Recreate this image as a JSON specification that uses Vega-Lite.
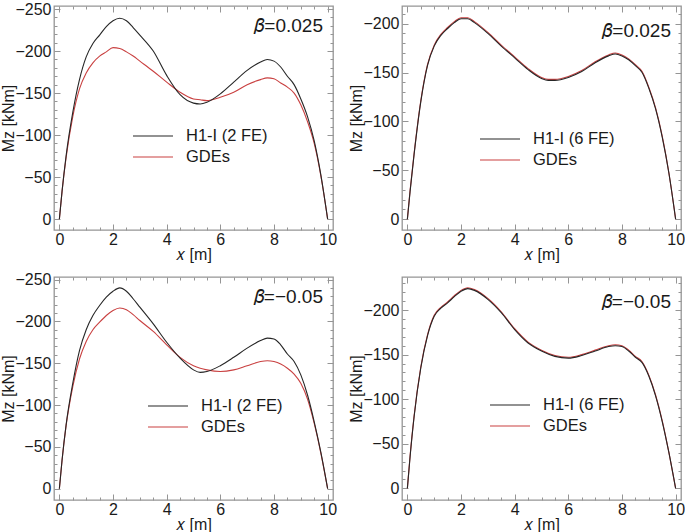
{
  "$schema": "https://vega.github.io/schema/vega-lite/v6.json",
  "background": "white",
  "padding": {"left": 0, "top": 0, "right": 0, "bottom": 0},
  "columns": 2,
  "spacing": {"row": 47, "column": 69},
  "bounds": "flush",
  "resolve": {"scale": {"color": "independent", "y": "independent", "x": "independent"}, "legend": {"color": "independent"}},
  "config": {
    "font": "Liberation Sans",
    "view": {"stroke": "#959595", "strokeWidth": 1.3},
    "axis": {"grid": false, "domain": false, "labelFontSize": 16, "labelColor": "#1a1a1a", "titleFontSize": 16, "titleFontWeight": "normal", "titleColor": "#1a1a1a", "tickColor": "#959595", "tickWidth": 1, "labelFont": "Liberation Sans", "titleFont": "Liberation Sans", "labelFlush": false, "labelOverlap": false},
    "axisY": {"titlePadding": -2, "labelPadding": 3},
    "axisX": {"titlePadding": -1, "labelPadding": 1},
    "legend": {"symbolType": "M-2,0H2", "symbolSize": 400, "symbolStrokeWidth": 1.2, "labelFontSize": 16.5, "labelColor": "#1a1a1a", "labelOffset": 22, "padding": 0, "rowPadding": 1, "labelFont": "Liberation Sans"},
    "title": {"anchor": "end", "frame": "group", "offset": -35, "dx": -10, "fontSize": 19, "fontWeight": "normal", "color": "#1a1a1a", "font": "Liberation Sans"}
  },
  "datasets": {
    "p1": [
      {"x": 0, "h": 0, "g": 0}, {"x": 0.1, "h": -33, "g": -33}, {"x": 0.25, "h": -75, "g": -73}, {"x": 0.5, "h": -127, "g": -122},
      {"x": 0.75, "h": -166, "g": -155}, {"x": 1.0, "h": -193, "g": -174}, {"x": 1.25, "h": -209, "g": -186}, {"x": 1.5, "h": -219, "g": -194},
      {"x": 1.75, "h": -229, "g": -199}, {"x": 2.0, "h": -236, "g": -204}, {"x": 2.25, "h": -239, "g": -203}, {"x": 2.5, "h": -236, "g": -199},
      {"x": 2.75, "h": -228, "g": -194}, {"x": 3.0, "h": -219, "g": -188}, {"x": 3.5, "h": -200, "g": -176}, {"x": 4.0, "h": -171, "g": -163},
      {"x": 4.5, "h": -148, "g": -151}, {"x": 5.0, "h": -138, "g": -143}, {"x": 5.25, "h": -137, "g": -142}, {"x": 5.5, "h": -139, "g": -141},
      {"x": 6.0, "h": -149, "g": -145}, {"x": 6.5, "h": -163, "g": -151}, {"x": 7.0, "h": -177, "g": -160}, {"x": 7.5, "h": -187, "g": -166},
      {"x": 7.75, "h": -190, "g": -168}, {"x": 8.0, "h": -188, "g": -167}, {"x": 8.25, "h": -181, "g": -162}, {"x": 8.5, "h": -170, "g": -157},
      {"x": 8.75, "h": -160, "g": -150}, {"x": 9.0, "h": -143, "g": -136}, {"x": 9.25, "h": -122, "g": -116}, {"x": 9.5, "h": -93, "g": -90},
      {"x": 9.75, "h": -52, "g": -51}, {"x": 10, "h": 0, "g": 0}
    ],
    "p2": [
      {"x": 0, "h": 0, "g": 0}, {"x": 0.1, "h": -28, "g": -29}, {"x": 0.25, "h": -66, "g": -67}, {"x": 0.5, "h": -120, "g": -121},
      {"x": 0.75, "h": -157, "g": -158}, {"x": 1.0, "h": -177, "g": -178}, {"x": 1.25, "h": -188, "g": -189}, {"x": 1.5, "h": -195, "g": -196},
      {"x": 1.75, "h": -201, "g": -202}, {"x": 2.0, "h": -205, "g": -206}, {"x": 2.25, "h": -205, "g": -206}, {"x": 2.5, "h": -201, "g": -202},
      {"x": 3.0, "h": -190, "g": -191}, {"x": 3.5, "h": -177, "g": -178}, {"x": 4.0, "h": -165, "g": -166}, {"x": 4.5, "h": -153, "g": -154},
      {"x": 5.0, "h": -144, "g": -145}, {"x": 5.25, "h": -142, "g": -143}, {"x": 5.5, "h": -142, "g": -143}, {"x": 6.0, "h": -145, "g": -146},
      {"x": 6.5, "h": -151, "g": -152}, {"x": 7.0, "h": -160, "g": -161}, {"x": 7.5, "h": -167, "g": -168}, {"x": 7.75, "h": -169, "g": -170},
      {"x": 8.0, "h": -167, "g": -168}, {"x": 8.25, "h": -163, "g": -164}, {"x": 8.5, "h": -157, "g": -158}, {"x": 8.75, "h": -150, "g": -151},
      {"x": 9.0, "h": -134, "g": -135}, {"x": 9.25, "h": -113, "g": -114}, {"x": 9.5, "h": -84, "g": -85}, {"x": 9.75, "h": -47, "g": -47},
      {"x": 10, "h": 0, "g": 0}
    ],
    "p3": [
      {"x": 0, "h": 0, "g": 0}, {"x": 0.1, "h": -34, "g": -34}, {"x": 0.25, "h": -76, "g": -75}, {"x": 0.5, "h": -126, "g": -122},
      {"x": 0.75, "h": -165, "g": -155}, {"x": 1.0, "h": -190, "g": -176}, {"x": 1.25, "h": -207, "g": -190}, {"x": 1.5, "h": -219, "g": -199},
      {"x": 1.75, "h": -229, "g": -207}, {"x": 2.0, "h": -236, "g": -213}, {"x": 2.25, "h": -240, "g": -216}, {"x": 2.5, "h": -236, "g": -214},
      {"x": 2.75, "h": -227, "g": -208}, {"x": 3.0, "h": -217, "g": -201}, {"x": 3.5, "h": -197, "g": -188}, {"x": 4.0, "h": -175, "g": -172},
      {"x": 4.5, "h": -156, "g": -157}, {"x": 5.0, "h": -142, "g": -147}, {"x": 5.25, "h": -139, "g": -144}, {"x": 5.5, "h": -140, "g": -142},
      {"x": 6.0, "h": -147, "g": -140}, {"x": 6.5, "h": -157, "g": -142}, {"x": 7.0, "h": -168, "g": -147}, {"x": 7.5, "h": -177, "g": -152},
      {"x": 7.75, "h": -180, "g": -153}, {"x": 8.0, "h": -179, "g": -152}, {"x": 8.25, "h": -172, "g": -149}, {"x": 8.5, "h": -161, "g": -144},
      {"x": 8.75, "h": -152, "g": -137}, {"x": 9.0, "h": -136, "g": -126}, {"x": 9.25, "h": -112, "g": -107}, {"x": 9.5, "h": -80, "g": -78},
      {"x": 9.75, "h": -43, "g": -42}, {"x": 10, "h": 0, "g": 0}
    ],
    "p4": [
      {"x": 0, "h": 0, "g": 0}, {"x": 0.1, "h": -35, "g": -36}, {"x": 0.25, "h": -80, "g": -81}, {"x": 0.5, "h": -135, "g": -136},
      {"x": 0.75, "h": -171, "g": -172}, {"x": 1.0, "h": -193, "g": -194}, {"x": 1.25, "h": -202, "g": -203}, {"x": 1.5, "h": -208, "g": -209},
      {"x": 1.75, "h": -215, "g": -216}, {"x": 2.0, "h": -221, "g": -222}, {"x": 2.25, "h": -224, "g": -225}, {"x": 2.5, "h": -222, "g": -223},
      {"x": 3.0, "h": -212, "g": -213}, {"x": 3.5, "h": -197, "g": -198}, {"x": 4.0, "h": -178, "g": -179}, {"x": 4.5, "h": -163, "g": -164},
      {"x": 5.0, "h": -154, "g": -155}, {"x": 5.5, "h": -148, "g": -149}, {"x": 6.0, "h": -146, "g": -147}, {"x": 6.5, "h": -149, "g": -150},
      {"x": 7.0, "h": -154, "g": -155}, {"x": 7.5, "h": -159, "g": -160}, {"x": 7.75, "h": -160, "g": -161}, {"x": 8.0, "h": -159, "g": -160},
      {"x": 8.25, "h": -154, "g": -155}, {"x": 8.5, "h": -147, "g": -148}, {"x": 8.75, "h": -141, "g": -142}, {"x": 9.0, "h": -126, "g": -127},
      {"x": 9.25, "h": -104, "g": -105}, {"x": 9.5, "h": -75, "g": -76}, {"x": 9.75, "h": -40, "g": -40}, {"x": 10, "h": 0, "g": 0}
    ]
  },
  "concat": [
    {
      "width": 279, "height": 224,
      "data": {"name": "p1"},
      "transform": [{"fold": ["g", "h"], "as": ["k", "m"]}],
      "title": {"text": "𝛽=0.025"},
      "resolve": {"axis": {"x": "independent", "y": "independent"}},
      "layer": [
        {
          "mark": {"type": "line", "interpolate": "monotone", "strokeWidth": 1.1},
          "encoding": {
            "x": {"field": "x", "type": "quantitative", "scale": {"domain": [-0.2, 10.2], "nice": false, "zero": false}, "axis": {"orient": "bottom", "values": [0, 2, 4, 6, 8, 10], "title": "𝑥 [m]", "ticks": false, "tickSize": 0}},
            "y": {"field": "m", "type": "quantitative", "scale": {"domain": [-253.6, 13], "reverse": true, "nice": false, "zero": false}, "axis": {"orient": "left", "values": [0, -50, -100, -150, -200, -250], "title": "Mz [kNm]", "ticks": false, "tickSize": 0}},
            "color": {"field": "k", "type": "nominal", "scale": {"domain": ["h", "g"], "range": ["#262626", "#c94040"]}, "legend": {"title": null, "orient": "none", "legendX": 88, "legendY": 119, "labelExpr": "datum.value == 'h' ? 'H1-I (2 FE)' : 'GDEs'"}}
          }
        },
        {
          "mark": {"type": "point", "opacity": 0},
          "encoding": {
            "x": {"field": "x", "type": "quantitative", "scale": {"domain": [-0.2, 10.2], "nice": false, "zero": false}, "axis": {"orient": "bottom", "values": [0, 0.5, 1, 1.5, 2, 2.5, 3, 3.5, 4, 4.5, 5, 5.5, 6, 6.5, 7, 7.5, 8, 8.5, 9, 9.5, 10], "labels": false, "title": null, "tickSize": {"condition": {"test": "datum.value % 2 === 0", "value": -6}, "value": -3}}},
            "y": {"field": "m", "type": "quantitative", "scale": {"domain": [-253.6, 13], "reverse": true, "nice": false, "zero": false}, "axis": {"orient": "left", "values": [0, -10, -20, -30, -40, -50, -60, -70, -80, -90, -100, -110, -120, -130, -140, -150, -160, -170, -180, -190, -200, -210, -220, -230, -240, -250], "labels": false, "title": null, "tickSize": {"condition": {"test": "datum.value % 50 === 0", "value": -6}, "value": -3}}}
          }
        },
        {
          "mark": {"type": "point", "opacity": 0},
          "encoding": {
            "x": {"field": "x", "type": "quantitative", "scale": {"domain": [-0.2, 10.2], "nice": false, "zero": false}, "axis": {"orient": "top", "values": [0, 0.5, 1, 1.5, 2, 2.5, 3, 3.5, 4, 4.5, 5, 5.5, 6, 6.5, 7, 7.5, 8, 8.5, 9, 9.5, 10], "labels": false, "title": null, "tickSize": {"condition": {"test": "datum.value % 2 === 0", "value": -6}, "value": -3}}},
            "y": {"field": "m", "type": "quantitative", "scale": {"domain": [-253.6, 13], "reverse": true, "nice": false, "zero": false}, "axis": {"orient": "right", "values": [0, -10, -20, -30, -40, -50, -60, -70, -80, -90, -100, -110, -120, -130, -140, -150, -160, -170, -180, -190, -200, -210, -220, -230, -240, -250], "labels": false, "title": null, "tickSize": {"condition": {"test": "datum.value % 50 === 0", "value": -6}, "value": -3}}}
          }
        }
      ]
    },
    {
      "width": 279, "height": 224,
      "data": {"name": "p2"},
      "transform": [{"fold": ["g", "h"], "as": ["k", "m"]}],
      "title": {"text": "𝛽=0.025"},
      "resolve": {"axis": {"x": "independent", "y": "independent"}},
      "layer": [
        {
          "mark": {"type": "line", "interpolate": "monotone", "strokeWidth": 1.1},
          "encoding": {
            "x": {"field": "x", "type": "quantitative", "scale": {"domain": [-0.2, 10.2], "nice": false, "zero": false}, "axis": {"orient": "bottom", "values": [0, 2, 4, 6, 8, 10], "title": "𝑥 [m]", "ticks": false, "tickSize": 0}},
            "y": {"field": "m", "type": "quantitative", "scale": {"domain": [-218, 11], "reverse": true, "nice": false, "zero": false}, "axis": {"orient": "left", "values": [0, -50, -100, -150, -200], "title": "Mz [kNm]", "ticks": false, "tickSize": 0}},
            "color": {"field": "k", "type": "nominal", "scale": {"domain": ["h", "g"], "range": ["#262626", "#c94040"]}, "legend": {"title": null, "orient": "none", "legendX": 87, "legendY": 122, "labelExpr": "datum.value == 'h' ? 'H1-I (6 FE)' : 'GDEs'"}}
          }
        },
        {
          "mark": {"type": "point", "opacity": 0},
          "encoding": {
            "x": {"field": "x", "type": "quantitative", "scale": {"domain": [-0.2, 10.2], "nice": false, "zero": false}, "axis": {"orient": "bottom", "values": [0, 0.5, 1, 1.5, 2, 2.5, 3, 3.5, 4, 4.5, 5, 5.5, 6, 6.5, 7, 7.5, 8, 8.5, 9, 9.5, 10], "labels": false, "title": null, "tickSize": {"condition": {"test": "datum.value % 2 === 0", "value": -6}, "value": -3}}},
            "y": {"field": "m", "type": "quantitative", "scale": {"domain": [-218, 11], "reverse": true, "nice": false, "zero": false}, "axis": {"orient": "left", "values": [0, -10, -20, -30, -40, -50, -60, -70, -80, -90, -100, -110, -120, -130, -140, -150, -160, -170, -180, -190, -200, -210], "labels": false, "title": null, "tickSize": {"condition": {"test": "datum.value % 50 === 0", "value": -6}, "value": -3}}}
          }
        },
        {
          "mark": {"type": "point", "opacity": 0},
          "encoding": {
            "x": {"field": "x", "type": "quantitative", "scale": {"domain": [-0.2, 10.2], "nice": false, "zero": false}, "axis": {"orient": "top", "values": [0, 0.5, 1, 1.5, 2, 2.5, 3, 3.5, 4, 4.5, 5, 5.5, 6, 6.5, 7, 7.5, 8, 8.5, 9, 9.5, 10], "labels": false, "title": null, "tickSize": {"condition": {"test": "datum.value % 2 === 0", "value": -6}, "value": -3}}},
            "y": {"field": "m", "type": "quantitative", "scale": {"domain": [-218, 11], "reverse": true, "nice": false, "zero": false}, "axis": {"orient": "right", "values": [0, -10, -20, -30, -40, -50, -60, -70, -80, -90, -100, -110, -120, -130, -140, -150, -160, -170, -180, -190, -200, -210], "labels": false, "title": null, "tickSize": {"condition": {"test": "datum.value % 50 === 0", "value": -6}, "value": -3}}}
          }
        }
      ]
    },
    {
      "width": 279, "height": 223,
      "data": {"name": "p3"},
      "transform": [{"fold": ["g", "h"], "as": ["k", "m"]}],
      "title": {"text": "𝛽=−0.05"},
      "resolve": {"axis": {"x": "independent", "y": "independent"}},
      "layer": [
        {
          "mark": {"type": "line", "interpolate": "monotone", "strokeWidth": 1.1},
          "encoding": {
            "x": {"field": "x", "type": "quantitative", "scale": {"domain": [-0.2, 10.2], "nice": false, "zero": false}, "axis": {"orient": "bottom", "values": [0, 2, 4, 6, 8, 10], "title": "𝑥 [m]", "ticks": false, "tickSize": 0}},
            "y": {"field": "m", "type": "quantitative", "scale": {"domain": [-253, 13.5], "reverse": true, "nice": false, "zero": false}, "axis": {"orient": "left", "values": [0, -50, -100, -150, -200, -250], "title": "Mz [kNm]", "ticks": false, "tickSize": 0}},
            "color": {"field": "k", "type": "nominal", "scale": {"domain": ["h", "g"], "range": ["#262626", "#c94040"]}, "legend": {"title": null, "orient": "none", "legendX": 103, "legendY": 118, "labelExpr": "datum.value == 'h' ? 'H1-I (2 FE)' : 'GDEs'"}}
          }
        },
        {
          "mark": {"type": "point", "opacity": 0},
          "encoding": {
            "x": {"field": "x", "type": "quantitative", "scale": {"domain": [-0.2, 10.2], "nice": false, "zero": false}, "axis": {"orient": "bottom", "values": [0, 0.5, 1, 1.5, 2, 2.5, 3, 3.5, 4, 4.5, 5, 5.5, 6, 6.5, 7, 7.5, 8, 8.5, 9, 9.5, 10], "labels": false, "title": null, "tickSize": {"condition": {"test": "datum.value % 2 === 0", "value": -6}, "value": -3}}},
            "y": {"field": "m", "type": "quantitative", "scale": {"domain": [-253, 13.5], "reverse": true, "nice": false, "zero": false}, "axis": {"orient": "left", "values": [0, -10, -20, -30, -40, -50, -60, -70, -80, -90, -100, -110, -120, -130, -140, -150, -160, -170, -180, -190, -200, -210, -220, -230, -240, -250], "labels": false, "title": null, "tickSize": {"condition": {"test": "datum.value % 50 === 0", "value": -6}, "value": -3}}}
          }
        },
        {
          "mark": {"type": "point", "opacity": 0},
          "encoding": {
            "x": {"field": "x", "type": "quantitative", "scale": {"domain": [-0.2, 10.2], "nice": false, "zero": false}, "axis": {"orient": "top", "values": [0, 0.5, 1, 1.5, 2, 2.5, 3, 3.5, 4, 4.5, 5, 5.5, 6, 6.5, 7, 7.5, 8, 8.5, 9, 9.5, 10], "labels": false, "title": null, "tickSize": {"condition": {"test": "datum.value % 2 === 0", "value": -6}, "value": -3}}},
            "y": {"field": "m", "type": "quantitative", "scale": {"domain": [-253, 13.5], "reverse": true, "nice": false, "zero": false}, "axis": {"orient": "right", "values": [0, -10, -20, -30, -40, -50, -60, -70, -80, -90, -100, -110, -120, -130, -140, -150, -160, -170, -180, -190, -200, -210, -220, -230, -240, -250], "labels": false, "title": null, "tickSize": {"condition": {"test": "datum.value % 50 === 0", "value": -6}, "value": -3}}}
          }
        }
      ]
    },
    {
      "width": 279, "height": 223,
      "data": {"name": "p4"},
      "transform": [{"fold": ["g", "h"], "as": ["k", "m"]}],
      "title": {"text": "𝛽=−0.05"},
      "resolve": {"axis": {"x": "independent", "y": "independent"}},
      "layer": [
        {
          "mark": {"type": "line", "interpolate": "monotone", "strokeWidth": 1.1},
          "encoding": {
            "x": {"field": "x", "type": "quantitative", "scale": {"domain": [-0.2, 10.2], "nice": false, "zero": false}, "axis": {"orient": "bottom", "values": [0, 2, 4, 6, 8, 10], "title": "𝑥 [m]", "ticks": false, "tickSize": 0}},
            "y": {"field": "m", "type": "quantitative", "scale": {"domain": [-237, 13], "reverse": true, "nice": false, "zero": false}, "axis": {"orient": "left", "values": [0, -50, -100, -150, -200], "title": "Mz [kNm]", "ticks": false, "tickSize": 0}},
            "color": {"field": "k", "type": "nominal", "scale": {"domain": ["h", "g"], "range": ["#262626", "#c94040"]}, "legend": {"title": null, "orient": "none", "legendX": 97, "legendY": 117, "labelExpr": "datum.value == 'h' ? 'H1-I (6 FE)' : 'GDEs'"}}
          }
        },
        {
          "mark": {"type": "point", "opacity": 0},
          "encoding": {
            "x": {"field": "x", "type": "quantitative", "scale": {"domain": [-0.2, 10.2], "nice": false, "zero": false}, "axis": {"orient": "bottom", "values": [0, 0.5, 1, 1.5, 2, 2.5, 3, 3.5, 4, 4.5, 5, 5.5, 6, 6.5, 7, 7.5, 8, 8.5, 9, 9.5, 10], "labels": false, "title": null, "tickSize": {"condition": {"test": "datum.value % 2 === 0", "value": -6}, "value": -3}}},
            "y": {"field": "m", "type": "quantitative", "scale": {"domain": [-237, 13], "reverse": true, "nice": false, "zero": false}, "axis": {"orient": "left", "values": [0, -10, -20, -30, -40, -50, -60, -70, -80, -90, -100, -110, -120, -130, -140, -150, -160, -170, -180, -190, -200, -210, -220, -230], "labels": false, "title": null, "tickSize": {"condition": {"test": "datum.value % 50 === 0", "value": -6}, "value": -3}}}
          }
        },
        {
          "mark": {"type": "point", "opacity": 0},
          "encoding": {
            "x": {"field": "x", "type": "quantitative", "scale": {"domain": [-0.2, 10.2], "nice": false, "zero": false}, "axis": {"orient": "top", "values": [0, 0.5, 1, 1.5, 2, 2.5, 3, 3.5, 4, 4.5, 5, 5.5, 6, 6.5, 7, 7.5, 8, 8.5, 9, 9.5, 10], "labels": false, "title": null, "tickSize": {"condition": {"test": "datum.value % 2 === 0", "value": -6}, "value": -3}}},
            "y": {"field": "m", "type": "quantitative", "scale": {"domain": [-237, 13], "reverse": true, "nice": false, "zero": false}, "axis": {"orient": "right", "values": [0, -10, -20, -30, -40, -50, -60, -70, -80, -90, -100, -110, -120, -130, -140, -150, -160, -170, -180, -190, -200, -210, -220, -230], "labels": false, "title": null, "tickSize": {"condition": {"test": "datum.value % 50 === 0", "value": -6}, "value": -3}}}
          }
        }
      ]
    }
  ]
}
